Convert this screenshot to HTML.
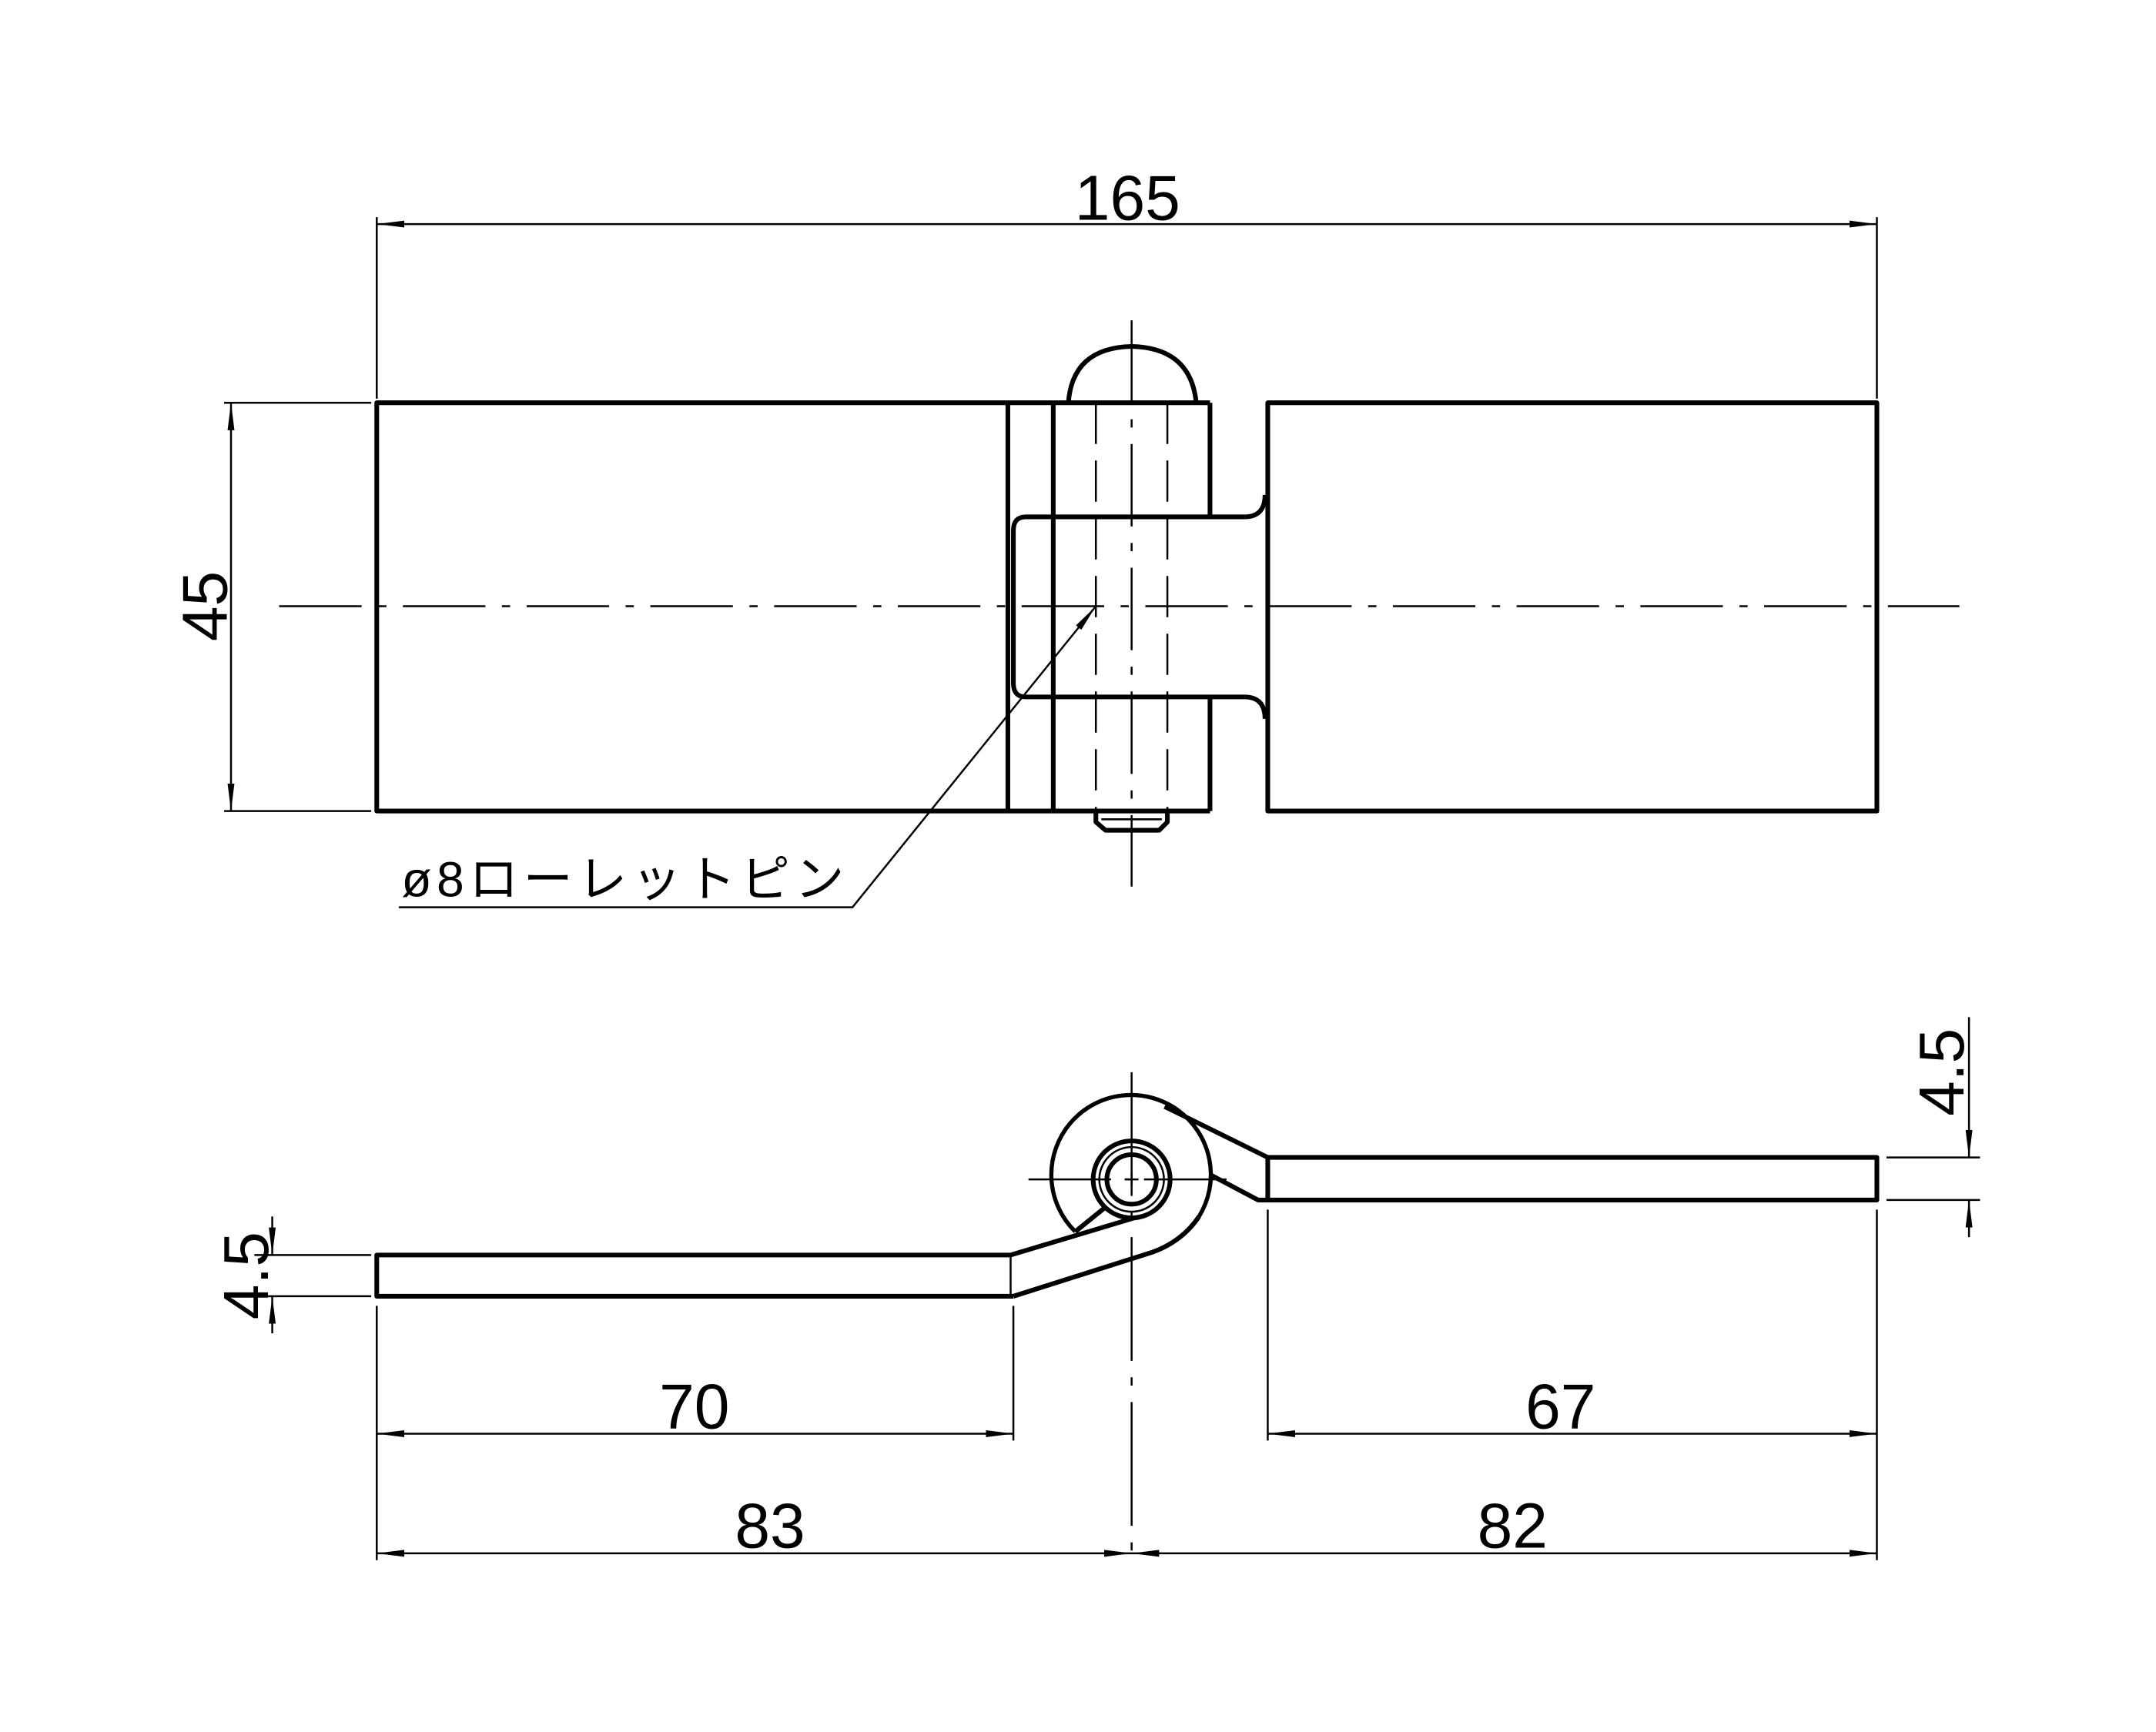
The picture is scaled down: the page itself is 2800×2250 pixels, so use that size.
<!DOCTYPE html>
<html><head><meta charset="utf-8"><style>html,body{margin:0;padding:0;background:#fff}svg{display:block}</style></head>
<body>
<svg width="2800" height="2250" viewBox="0 0 1568 1260" xmlns="http://www.w3.org/2000/svg">
<defs>
<marker id="a" viewBox="0 0 20 6" refX="20" refY="3" markerWidth="20" markerHeight="6" markerUnits="userSpaceOnUse" orient="auto-start-reverse"><path d="M0,0.5 L20,3 L0,5.5 Z" fill="#000"/></marker>
</defs>
<rect width="1568" height="1260" fill="#fff"/>
<g fill="none" stroke="#000" stroke-width="1.4">
<line x1="274" y1="158" x2="274" y2="290"/>
<line x1="1365" y1="158" x2="1365" y2="290"/>
<line x1="274" y1="163" x2="1365" y2="163" marker-start="url(#a)" marker-end="url(#a)"/>
<line x1="163" y1="293" x2="270" y2="293"/>
<line x1="163" y1="590" x2="270" y2="590"/>
<line x1="168" y1="293" x2="168" y2="590" marker-start="url(#a)" marker-end="url(#a)"/>
<line x1="203" y1="441" x2="1425" y2="441" stroke-dasharray="60,12,6,12"/>
<line x1="823" y1="233" x2="823" y2="645" stroke-dasharray="60,12,6,12"/>
<line x1="797" y1="293" x2="797" y2="590" stroke-dasharray="30,12"/>
<line x1="849" y1="293" x2="849" y2="590" stroke-dasharray="30,12"/>
<polyline points="290,660 620,660 797,441" marker-end="url(#a)"/>
</g>
<g fill="none" stroke="#000" stroke-width="3.4" stroke-linejoin="round">
<rect x="274" y="293" width="459" height="297"/>
<rect x="922" y="293" width="443" height="297"/>
<line x1="733" y1="293" x2="880" y2="293"/>
<line x1="733" y1="590" x2="880" y2="590"/>
<line x1="766" y1="293" x2="766" y2="590"/>
<line x1="880" y1="293" x2="880" y2="376"/>
<line x1="880" y1="507" x2="880" y2="590"/>
<path d="M905,376 H746 Q737,376 737,386 V497 Q737,507 746,507 H905"/>
<path d="M905,376 Q920,376 920,360"/>
<path d="M905,507 Q920,507 920,523"/>
<path d="M777,293 Q780,253 823,252 Q866,253 870,293"/>
<path d="M797,590 V598 L804,604 H843 L849,598 V590"/>
<line x1="801" y1="596" x2="845" y2="596" stroke-width="1.5"/>
</g>
<g fill="none" stroke="#000" stroke-width="1.4">
<line x1="748" y1="858" x2="900" y2="858" stroke-dasharray="60,10,4,10"/>
<line x1="823" y1="780" x2="823" y2="1135" stroke-dasharray="90,12,6,12"/>
<line x1="274" y1="950" x2="274" y2="1135"/>
<line x1="737" y1="950" x2="737" y2="1048"/>
<line x1="922" y1="880" x2="922" y2="1048"/>
<line x1="1365" y1="880" x2="1365" y2="1135"/>
<line x1="274" y1="1043" x2="737" y2="1043" marker-start="url(#a)" marker-end="url(#a)"/>
<line x1="922" y1="1043" x2="1365" y2="1043" marker-start="url(#a)" marker-end="url(#a)"/>
<line x1="274" y1="1130" x2="823" y2="1130" marker-start="url(#a)" marker-end="url(#a)"/>
<line x1="823" y1="1130" x2="1365" y2="1130" marker-start="url(#a)" marker-end="url(#a)"/>
<line x1="185" y1="913" x2="270" y2="913"/>
<line x1="185" y1="943" x2="270" y2="943"/>
<line x1="198" y1="885" x2="198" y2="913" marker-end="url(#a)"/>
<line x1="198" y1="970" x2="198" y2="943" marker-end="url(#a)"/>
<line x1="1372" y1="842" x2="1440" y2="842"/>
<line x1="1372" y1="873" x2="1440" y2="873"/>
<line x1="1432" y1="740" x2="1432" y2="842" marker-end="url(#a)"/>
<line x1="1432" y1="900" x2="1432" y2="873" marker-end="url(#a)"/>
<line x1="735" y1="913" x2="735" y2="943"/>
<line x1="818" y1="858" x2="828" y2="858"/>
<line x1="823" y1="853" x2="823" y2="863"/>
</g>
<g fill="none" stroke="#000" stroke-width="3.4" stroke-linejoin="round">
<path d="M735,913 H274 V943 H737"/>
<path d="M922,842 H1365 V873 H922 Z"/>
<path d="M735,913 L825,886"/>
<path d="M737,943 L838,911 Q860,903 872,885"/>
<path d="M782,896 A58,58 0 1 1 872,885" stroke-width="3"/>
<line x1="782" y1="896" x2="803" y2="879"/>
<path d="M847,805 L922,842"/>
<path d="M881,855 L915,873 H922"/>
<circle cx="823" cy="858" r="28"/>
<circle cx="823" cy="858" r="23.5" stroke-width="1.4"/>
<circle cx="823" cy="858" r="18"/>
</g>
<g font-family="Liberation Sans, sans-serif" font-size="46" fill="#000" text-anchor="middle">
<text x="820" y="160">165</text>
<text transform="translate(165,441) rotate(-90)">45</text>
<text x="505" y="1039">70</text>
<text x="1135" y="1039">67</text>
<text x="560" y="1126">83</text>
<text x="1100" y="1126">82</text>
<text transform="translate(195,928) rotate(-90)">4.5</text>
<text transform="translate(1428,780) rotate(-90)">4.5</text>
</g>
<text x="292" y="652" font-family="Liberation Sans, 'Noto Sans CJK JP', sans-serif" font-size="36" textLength="322" lengthAdjust="spacing" fill="#000">ø8ローレットピン</text>
</svg>
</body></html>
